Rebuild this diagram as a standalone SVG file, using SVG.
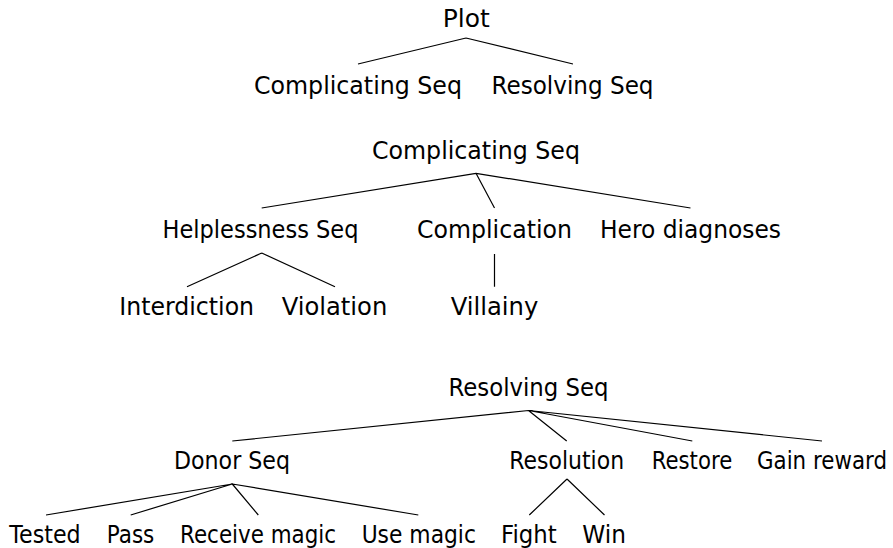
<svg xmlns="http://www.w3.org/2000/svg" width="893" height="548" viewBox="0 0 893 548">
<style>
text{font-family:"DejaVu Sans","Liberation Sans",sans-serif;font-size:24px;fill:#000;text-anchor:middle}
.e{stroke:#000;stroke-width:1.2;fill:none}
</style>
<rect width="893" height="548" fill="#fff"/>
<g id="connectors">
<path class="e" d="M466,38L358,64M466,38L573,64"/>
<path class="e" d="M476,173.3L261.7,208M476,173.3L494.5,208M476,173.3L690.5,208"/>
<path class="e" d="M261.7,253L187,286.7M261.7,253L335,286.7M494.5,254L494.5,286.7"/>
<path class="e" d="M528.5,410.5L232.3,441M528.5,410.5L566.7,441M528.5,410.5L692.3,441M528.5,410.5L822,441"/>
<path class="e" d="M232.3,484L46,515M232.3,484L130.7,515M232.3,484L258.3,515M232.3,484L418.3,515"/>
<path class="e" d="M567,479L529.3,515M567,479L604.5,515"/>
</g>
<g id="t1-plot"><text x="466.3" y="27.3" textLength="47" lengthAdjust="spacingAndGlyphs">Plot</text></g>
<g id="t1-complicating"><text x="358" y="93.5" textLength="208" lengthAdjust="spacingAndGlyphs">Complicating Seq</text></g>
<g id="t1-resolving"><text x="572.5" y="93.5" textLength="162" lengthAdjust="spacingAndGlyphs">Resolving Seq</text></g>
<g id="t2-complicating"><text x="476" y="158.5" textLength="208" lengthAdjust="spacingAndGlyphs">Complicating Seq</text></g>
<g id="t2-helplessness"><text x="260.5" y="238" textLength="196" lengthAdjust="spacingAndGlyphs">Helplessness Seq</text></g>
<g id="t2-complication"><text x="494.5" y="238" textLength="155" lengthAdjust="spacingAndGlyphs">Complication</text></g>
<g id="t2-hero"><text x="690.5" y="238" textLength="181" lengthAdjust="spacingAndGlyphs">Hero diagnoses</text></g>
<g id="t2-interdiction"><text x="186.7" y="315" textLength="134.7" lengthAdjust="spacingAndGlyphs">Interdiction</text></g>
<g id="t2-violation"><text x="334.5" y="315" textLength="105.6" lengthAdjust="spacingAndGlyphs">Violation</text></g>
<g id="t2-villainy"><text x="494.5" y="315" textLength="87.6" lengthAdjust="spacingAndGlyphs">Villainy</text></g>
<g id="t3-resolving"><text x="528.5" y="395.7" textLength="160" lengthAdjust="spacingAndGlyphs">Resolving Seq</text></g>
<g id="t3-donor"><text x="232" y="469.3" textLength="116" lengthAdjust="spacingAndGlyphs">Donor Seq</text></g>
<g id="t3-resolution"><text x="566.7" y="469.3" textLength="114.7" lengthAdjust="spacingAndGlyphs">Resolution</text></g>
<g id="t3-restore"><text x="692" y="469.3" textLength="80.6" lengthAdjust="spacingAndGlyphs">Restore</text></g>
<g id="t3-gain"><text x="822" y="469.3" textLength="130" lengthAdjust="spacingAndGlyphs">Gain reward</text></g>
<g id="t3-tested"><text x="45" y="542.5" textLength="71.4" lengthAdjust="spacingAndGlyphs">Tested</text></g>
<g id="t3-pass"><text x="130.5" y="542.5" textLength="47.6" lengthAdjust="spacingAndGlyphs">Pass</text></g>
<g id="t3-receive"><text x="258" y="542.5" textLength="156" lengthAdjust="spacingAndGlyphs">Receive magic</text></g>
<g id="t3-use"><text x="418.8" y="542.5" textLength="114.3" lengthAdjust="spacingAndGlyphs">Use magic</text></g>
<g id="t3-fight"><text x="528.8" y="542.5" textLength="55.7" lengthAdjust="spacingAndGlyphs">Fight</text></g>
<g id="t3-win"><text x="604.2" y="542.5" textLength="43.7" lengthAdjust="spacingAndGlyphs">Win</text></g>
</svg>
